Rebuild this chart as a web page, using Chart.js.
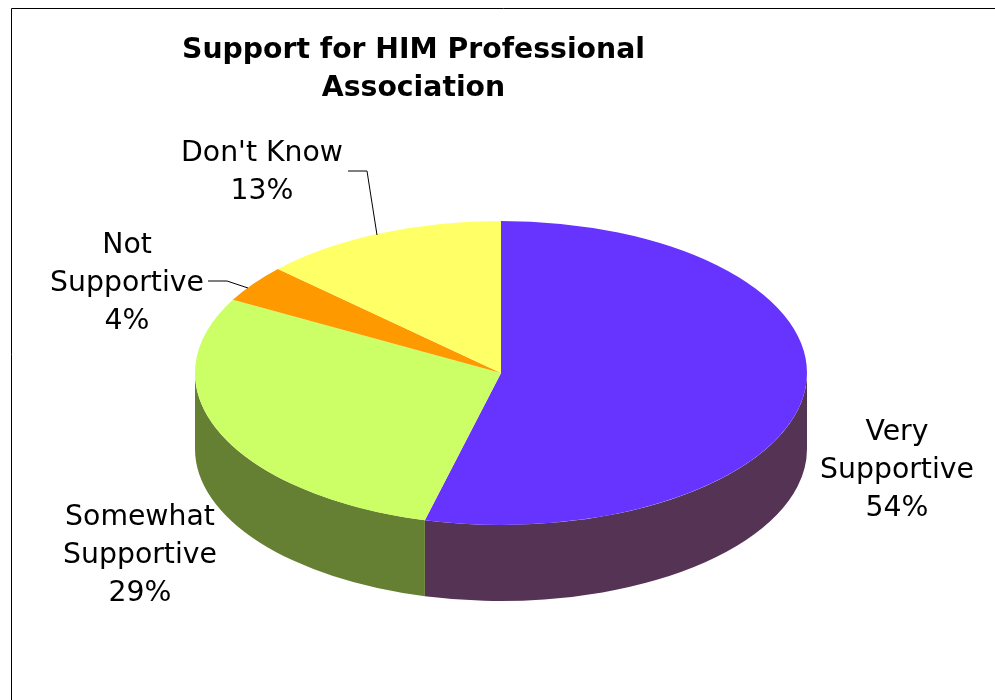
<!DOCTYPE html>
<html>
<head>
<meta charset="utf-8">
<title>Support for HIM Professional Association</title>
<script src="https://cdn.jsdelivr.net/npm/chart.js@4/dist/chart.umd.js"></script>
<style>
    html, body { margin: 0; padding: 0; background: #fff; }
    canvas { display: block; }
</style>
</head>
<body>
<canvas id="chart" width="995" height="700"></canvas>
<script>
const categories = ['Very Supportive', 'Somewhat Supportive', 'Not Supportive', "Don't Know"];
const shares = [54, 29, 4, 13];
const titleLines = ['Support for HIM Professional', 'Association'];

const topColors = ['#6633ff', '#ccff66', '#ff9900', '#ffff66'];
const wallColors = ['#553355', '#668033', '#805000', '#808033'];

// Label anchors: centre x and first baseline, in canvas pixels
const labelAnchors = [[897, 440], [140, 525], [127, 253], [262, 161]];
const labelLines = [['Very', 'Supportive'], ['Somewhat', 'Supportive'], ['Not', 'Supportive'], ["Don't Know"]];
const leaders = [null, null, [[208, 281], [227, 281], [248, 288]], [[348, 171], [367, 171], [377, 235]]];

const pieCentre = { x: 501, y: 373 };
const squash = 152 / 306;
const depth = 76;
const textFont = '"DejaVu Sans", Verdana, sans-serif';

const tiltedPie = {
    id: 'tiltedPie',
    beforeDatasetsDraw(chart) {
        const { ctx } = chart;
        const arcs = chart.getDatasetMeta(0).data;
        const rx = arcs[0].outerRadius;
        const ry = rx * squash;

        // side wall: only the part of each slice facing the viewer
        arcs.forEach((arc, i) => {
            const from = Math.max(arc.startAngle, 0);
            const to = Math.min(arc.endAngle, Math.PI);
            if (from >= to) return;
            ctx.beginPath();
            ctx.ellipse(pieCentre.x, pieCentre.y, rx, ry, 0, from, to);
            ctx.ellipse(pieCentre.x, pieCentre.y + depth, rx, ry, 0, to, from, true);
            ctx.closePath();
            ctx.fillStyle = wallColors[i];
            ctx.fill();
        });

        ctx.save();
        ctx.translate(pieCentre.x, pieCentre.y);
        ctx.scale(1, squash);
        ctx.translate(-arcs[0].x, -arcs[0].y);
    },
    afterDatasetsDraw(chart) {
        const { ctx } = chart;
        ctx.restore();

        // frame, open on the right and at the bottom
        ctx.strokeStyle = '#000';
        ctx.lineWidth = 1;
        ctx.beginPath();
        ctx.moveTo(11.5, 700);
        ctx.lineTo(11.5, 8.5);
        ctx.lineTo(995, 8.5);
        ctx.stroke();

        ctx.textAlign = 'center';
        ctx.textBaseline = 'alphabetic';
        ctx.fillStyle = '#000';

        ctx.font = 'bold 28.3px ' + textFont;
        titleLines.forEach((line, i) => ctx.fillText(line, 413.5, 58 + i * 38));

        ctx.font = '28.3px ' + textFont;
        categories.forEach((name, i) => {
            const [x, y] = labelAnchors[i];
            const lines = [...labelLines[i], shares[i] + '%'];
            lines.forEach((line, n) => ctx.fillText(line, x, y + n * 38));

            if (leaders[i]) {
                ctx.beginPath();
                leaders[i].forEach(([px, py], n) => n ? ctx.lineTo(px, py) : ctx.moveTo(px, py));
                ctx.stroke();
            }
        });
    },
};

new Chart(document.getElementById('chart'), {
    type: 'pie',
    data: {
        labels: categories,
        datasets: [{
            data: shares,
            backgroundColor: topColors,
            borderWidth: 0,
        }],
    },
    options: {
        responsive: false,
        animation: false,
        layout: { padding: { left: 195, right: 188, top: 44, bottom: 44 } },
        plugins: {
            legend: { display: false },
            tooltip: { enabled: false },
            title: { display: false },
        },
    },
    plugins: [tiltedPie],
});
</script>
</body>
</html>
